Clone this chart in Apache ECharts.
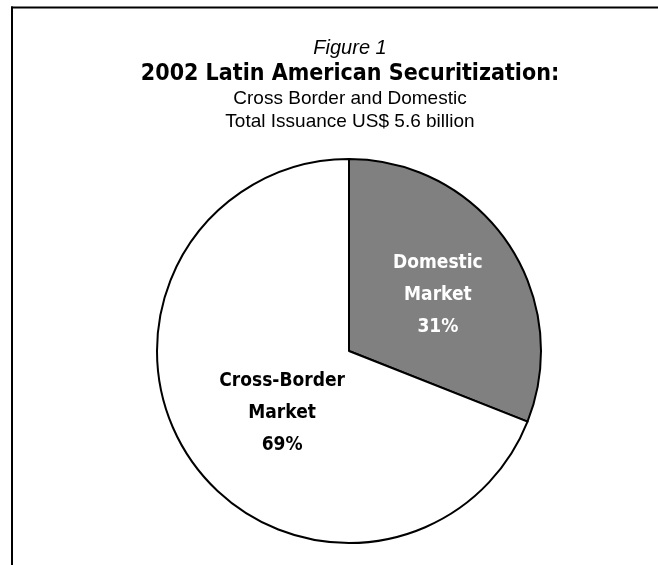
<!DOCTYPE html>
<html><head><meta charset="utf-8">
<script src="https://cdn.jsdelivr.net/npm/echarts@6/dist/echarts.min.js"></script>
<style>html,body{margin:0;padding:0;background:#fff}#main{width:658px;height:565px}</style>
</head><body><div id="main"></div>
<script>
const categories = ['Domestic\nMarket', 'Cross-Border\nMarket'];
const values = [31, 69];
const colors = ['#808080', '#ffffff'];
const labelColors = ['#ffffff', '#000000'];
const labelShift = [[7, 0], [15, 6]];
const F = '"Liberation Sans Narrow", "DejaVu Sans Condensed", "Liberation Sans", sans-serif';
const R = '"Liberation Sans", Arial, sans-serif';

const chart = echarts.init(document.getElementById('main'), null, {renderer: 'canvas'});
chart.setOption({
  animation: false,
  backgroundColor: '#fff',
  title: {
    left: 345, top: 30, textAlign: 'center',
    text: '{a|Figure 1}\n{b|2002 Latin American Securitization:}\n{c|Cross Border and Domestic}\n{c|Total Issuance US$ 5.6 billion}',
    textStyle: {
      rich: {
        a: {fontFamily: R, fontStyle: 'italic', fontWeight: 'normal', fontSize: 20, color: '#000', lineHeight: 26, align: 'center'},
        b: {fontFamily: F, fontWeight: 'bold', fontSize: 23, color: '#000', lineHeight: 26, align: 'center'},
        c: {fontFamily: R, fontWeight: 'normal', fontSize: 19, color: '#000', lineHeight: 23, align: 'center'}
      }
    }
  },
  graphic: [
    {type: 'line', shape: {x1: 12, y1: 6.5, x2: 12, y2: 565}, style: {stroke: '#000', lineWidth: 2}},
    {type: 'line', shape: {x1: 11, y1: 7.5, x2: 658, y2: 7.5}, style: {stroke: '#000', lineWidth: 2}}
  ],
  series: [{
    type: 'pie',
    center: [349, 351],
    radius: 192,
    startAngle: 90,
    clockwise: true,
    silent: true,
    labelLine: {show: false},
    label: {
      position: 'inside',
      fontFamily: F, fontWeight: 'bold', fontSize: 19, lineHeight: 32,
      formatter: p => p.name + '\n' + p.value + '%'
    },
    labelLayout: p => ({dx: labelShift[p.dataIndex][0], dy: labelShift[p.dataIndex][1]}),
    itemStyle: {borderColor: '#000', borderWidth: 2},
    data: categories.map((c, i) => ({
      name: c, value: values[i],
      itemStyle: {color: colors[i]},
      label: {color: labelColors[i]}
    }))
  }]
});
</script></body></html>
